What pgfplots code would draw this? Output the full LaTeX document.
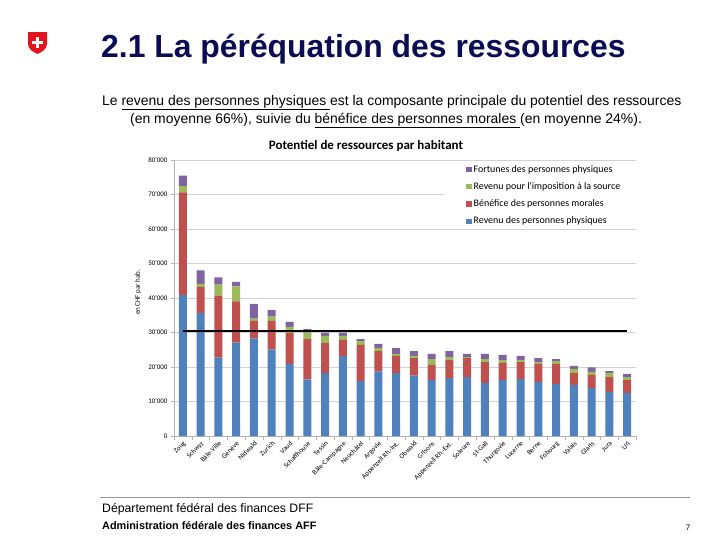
\documentclass[border=0pt]{standalone}
\usepackage{pgfplots}
\pgfplotsset{compat=1.18}
\usepackage{pgfplotstable}
\usepackage{fontspec}
\setmainfont{Liberation Sans}
\newfontfamily\calibri{Carlito}
\definecolor{cblue}{HTML}{4F81BD}
\definecolor{cred}{HTML}{C0504D}
\definecolor{cgreen}{HTML}{9BBB59}
\definecolor{cpurple}{HTML}{8064A2}
\definecolor{navy}{HTML}{0C0C55}
\definecolor{swissred}{HTML}{E3141E}
\pgfplotstableread{
idx blue red green purple
0  40800 29800 1800 3100
1  35600 7600 900 3900
2  22700 18000 3200 2100
3  27100 11900 4400 1300
4  28200 5200 600 4300
5  25100 8300 1200 1900
6  20900 9000 1700 1500
7  16400 11700 1900 1000
8  18200 8800 2000 1000
9  23200 4700 1100 1000
10 15900 10500 1100 600
11 18700 5900 900 1200
12 18200 5000 600 1700
13 17500 5100 600 1400
14 16200 4400 1700 1500
15 16800 5200 900 1700
16 17100 5500 300 900
17 15400 6000 900 1500
18 16200 5000 800 1500
19 16500 4900 600 1200
20 15700 5200 500 1200
21 15100 5800 800 600
22 14800 3500 1100 900
23 13900 3800 900 1300
24 12800 4300 1200 500
25 12500 3700 900 900
}\datatable
\begin{document}
\begin{tikzpicture}
\fill[white] (0,0) rectangle (720bp,-540bp);
% Swiss logo
\fill[swissred] (28bp,-32bp) -- (47bp,-32bp) -- (47bp,-44bp) .. controls (47bp,-49bp) and (42bp,-52bp) .. (37.5bp,-54bp) .. controls (33bp,-52bp) and (28bp,-49bp) .. (28bp,-44bp) -- cycle;
\fill[white] (35.9bp,-36.5bp) rectangle (39.1bp,-48bp);
\fill[white] (32bp,-40.6bp) rectangle (43bp,-43.8bp);
% Title
\node[anchor=base west, inner sep=0, text=navy, font=\fontsize{32}{32}\selectfont\bfseries] at (101bp,-57bp) {2.1 La péréquation des ressources};
\node[anchor=base west, inner sep=0, font=\fontsize{14}{15}\selectfont] at (102bp,-105bp) {Le \underline{revenu des personnes physiques\ }est la composante principale du potentiel des ressources};
\node[anchor=base west, inner sep=0, font=\fontsize{14}{15}\selectfont] at (130bp,-123bp) {(en moyenne 66\%), suivie du \underline{bénéfice des personnes morales\ }(en moyenne 24\%).};
% chart title
\node[font=\calibri\fontsize{13}{13}\selectfont\bfseries, inner sep=0] at (366bp,-146bp) {Potentiel de ressources par habitant};
\begin{axis}[
  at={(174bp,-436bp)}, anchor=south west,
  scale only axis, width=462bp, height=276bp,
  xmin=-0.5, xmax=25.5, ymin=0, ymax=80000,
  scaled y ticks=false,
  ybar stacked, bar width=8bp,
  axis x line*=bottom, axis y line*=left,
  axis line style={gray!60, line width=0.8bp},
  ymajorgrids, grid style={gray!35, line width=0.8bp},
  tick align=outside, major tick length=3bp, minor tick length=4bp,
  ytick={0,10000,20000,30000,40000,50000,60000,70000,80000},
  yticklabels={0,10'000,20'000,30'000,40'000,50'000,60'000,70'000,80'000},
  y tick label style={font=\calibri\fontsize{7}{7}\selectfont},
  ytick style={gray!60},
  xtick={0,...,25},
  every major x tick/.append style={draw=none},
  minor xtick={-0.5,0.5,...,25.5},
  every minor x tick/.append style={draw=gray!60},
  xticklabels={Zoug,Schwyz,Bâle-Ville,Genève,Nidwald,Zurich,Vaud,Schaffhouse,Tessin,Bâle-Campagne,Neuchâtel,Argovie,Appenzell Rh.-Int.,Obwald,Grisons,Appenzell Rh.-Ext.,Soleure,St-Gall,Thurgovie,Lucerne,Berne,Fribourg,Valais,Glaris,Jura,Uri},
  x tick label style={font=\calibri\fontsize{7}{7}\selectfont, rotate=45, anchor=north east, inner sep=1bp},
  ylabel={en CHF par hab.},
  ylabel style={at={(axis description cs:-0.078,0.52)}, anchor=center, font=\calibri\fontsize{7}{7}\selectfont},
  reverse legend,
  legend style={at={(0.585,0.996)}, anchor=north west, draw=none, fill=white,
    font=\calibri\fontsize{10}{10}\selectfont, inner xsep=22bp, inner ysep=2bp, row sep=4.8bp},
  legend cell align=left,
  legend image code/.code={\fill[#1] (0bp,-2.6bp) rectangle (5.2bp,2.6bp);},
]
\addplot[fill=cblue, draw=none] table[x=idx, y=blue] {\datatable};
\addplot[fill=cred, draw=none] table[x=idx, y=red] {\datatable};
\addplot[fill=cgreen, draw=none] table[x=idx, y=green] {\datatable};
\addplot[fill=cpurple, draw=none] table[x=idx, y=purple] {\datatable};
\legend{Revenu des personnes physiques, Bénéfice des personnes morales, Revenu pour l'imposition à la source, Fortunes des personnes physiques}
\end{axis}
\begin{axis}[
  at={(174bp,-436bp)}, anchor=south west,
  scale only axis, width=462bp, height=276bp,
  xmin=-0.5, xmax=25.5, ymin=0, ymax=80000, hide axis,
]
\addplot[black, line width=2.2bp] coordinates {(0,30500) (25,30500)};
\end{axis}
% footer
\draw[gray!80, line width=1bp] (100bp,-497bp) -- (690bp,-497bp);
\node[anchor=base west, inner sep=0, font=\fontsize{12.3}{12}\selectfont] at (102bp,-512bp) {Département fédéral des finances DFF};
\node[anchor=base west, inner sep=0, font=\fontsize{10.9}{12}\selectfont\bfseries] at (102bp,-529bp) {Administration fédérale des finances AFF};
\node[anchor=base, inner sep=0, font=\fontsize{8}{8}\selectfont] at (688bp,-530bp) {7};
\end{tikzpicture}
\end{document}
